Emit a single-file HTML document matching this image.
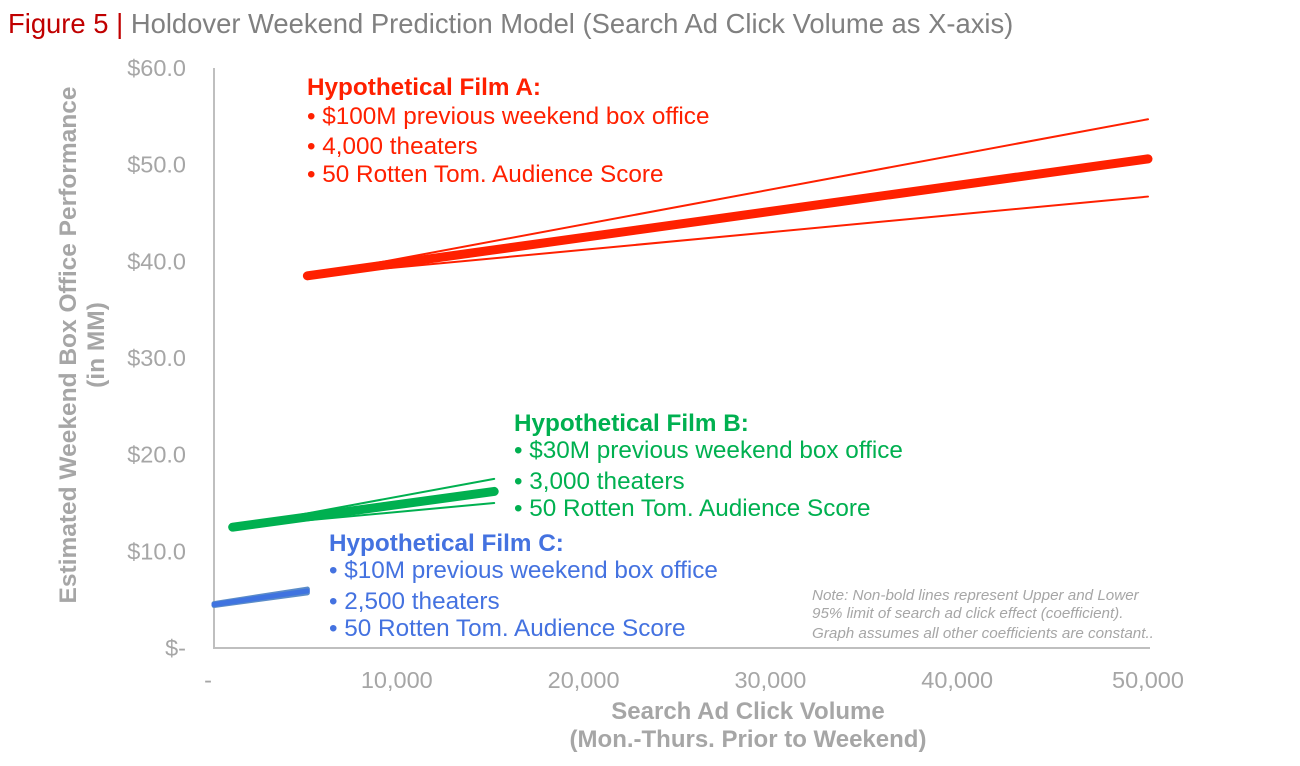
<!DOCTYPE html>
<html><head><meta charset="utf-8"><style>
body{margin:0;background:#fff;width:1300px;height:761px;overflow:hidden;font-family:"Liberation Sans",Arial,sans-serif}
</style></head><body>
<svg width="1300" height="761" xmlns="http://www.w3.org/2000/svg" font-family="Liberation Sans, Arial, sans-serif">
<text x="8" y="33" font-size="27.4"><tspan fill="#c00000">Figure 5 | </tspan><tspan fill="#808080">Holdover Weekend Prediction Model (Search Ad Click Volume as X-axis)</tspan></text>
<line x1="214" y1="68" x2="214" y2="648" stroke="#bfbfbf" stroke-width="2"/>
<line x1="213" y1="648" x2="1150" y2="648" stroke="#bfbfbf" stroke-width="2"/>
<g id="yticks"></g>
<g id="xticks"></g>
<g id="series"></g>
<text transform="translate(76,345) rotate(-90)" text-anchor="middle" font-size="24.5" font-weight="bold" fill="#a6a6a6"><tspan x="0" dy="0">Estimated Weekend Box Office Performance</tspan><tspan x="0" dy="28">(in MM)</tspan></text>
<text x="748" y="719" text-anchor="middle" font-size="24" font-weight="bold" fill="#a6a6a6">Search Ad Click Volume</text>
<text x="748" y="747" text-anchor="middle" font-size="24" font-weight="bold" fill="#a6a6a6">(Mon.-Thurs. Prior to Weekend)</text>
<g font-size="24.3" fill="#ff2000">
<text x="307" y="95" font-weight="bold">Hypothetical Film A:</text>
<text x="307" y="124">• $100M previous weekend box office</text>
<text x="307" y="154">• 4,000 theaters</text>
<text x="307" y="182">• 50 Rotten Tom. Audience Score</text></g>
<g font-size="24.3" fill="#00b050">
<text x="514" y="431" font-weight="bold">Hypothetical Film B:</text>
<text x="514" y="458">• $30M previous weekend box office</text>
<text x="514" y="489">• 3,000 theaters</text>
<text x="514" y="516">• 50 Rotten Tom. Audience Score</text></g>
<g font-size="24.3" fill="#4472e0">
<text x="329" y="551" font-weight="bold">Hypothetical Film C:</text>
<text x="329" y="578">• $10M previous weekend box office</text>
<text x="329" y="609">• 2,500 theaters</text>
<text x="329" y="636">• 50 Rotten Tom. Audience Score</text></g>
<g font-size="15.2" font-style="italic" fill="#a6a6a6">
<text x="812" y="600">Note: Non-bold lines represent Upper and Lower</text>
<text x="812" y="618">95% limit of search ad click effect (coefficient).</text>
<text x="812" y="638">Graph assumes all other coefficients are constant..</text></g>
</svg>
<script>
const yTickValues=[0,10,20,30,40,50,60];
const yTickLabels=["$-","$10.0","$20.0","$30.0","$40.0","$50.0","$60.0"];
const xTickValues=[0,10000,20000,30000,40000,50000];
const xTickLabels=["-","10,000","20,000","30,000","40,000","50,000"];
const filmAX=[5000,50000];
const filmAMid=[38.5,50.6];
const filmAUpper=[38.5,54.7];
const filmALower=[38.5,46.7];
const filmBX=[1000,15000];
const filmBMid=[12.5,16.2];
const filmBUpper=[12.5,17.5];
const filmBLower=[12.5,15.0];
const filmCX=[0,5000];
const filmCMid=[4.5,5.9];
const filmCUpper=[4.6,6.1];
const filmCLower=[4.4,5.7];
const NS="http://www.w3.org/2000/svg";
const xs=v=>214+v*(1148-214)/50000;
const ys=v=>648-v*(648-68)/60;
function mk(tag,attrs,parent){const e=document.createElementNS(NS,tag);for(const k in attrs)e.setAttribute(k,attrs[k]);parent.appendChild(e);return e;}
const yg=document.getElementById('yticks'),xg=document.getElementById('xticks'),sg=document.getElementById('series');
yTickValues.forEach((v,i)=>{const t=mk('text',{x:186,y:ys(v)+8,'text-anchor':'end','font-size':23.5,fill:'#a6a6a6'},yg);t.textContent=yTickLabels[i];

});
xTickValues.forEach((v,i)=>{const t=mk('text',{x:xs(v)+(i==0?-6:(i==5?0:-4)),y:688,'text-anchor':'middle','font-size':23.5,fill:'#a6a6a6'},xg);t.textContent=xTickLabels[i];

});
function line(X,Y,color,w,name){const l=mk('line',{x1:xs(X[0]),y1:ys(Y[0]),x2:xs(X[1]),y2:ys(Y[1]),stroke:color,'stroke-width':w,'stroke-linecap':'round'},sg);

}
line(filmAX,filmAUpper,'#ff2000',2,'film-a-upper');
line(filmAX,filmALower,'#ff2000',2,'film-a-lower');
line(filmAX,filmAMid,'#ff2000',9,'film-a-estimate');
line(filmBX,filmBUpper,'#00b050',2,'film-b-upper');
line(filmBX,filmBLower,'#00b050',2,'film-b-lower');
line(filmBX,filmBMid,'#00b050',9,'film-b-estimate');
line(filmCX,filmCUpper,'#5b8cc8',5,'film-c-upper');
line(filmCX,filmCLower,'#5b8cc8',5,'film-c-lower');
line(filmCX,filmCMid,'#3f73e0',5,'film-c-estimate');
</script>
</body></html>
